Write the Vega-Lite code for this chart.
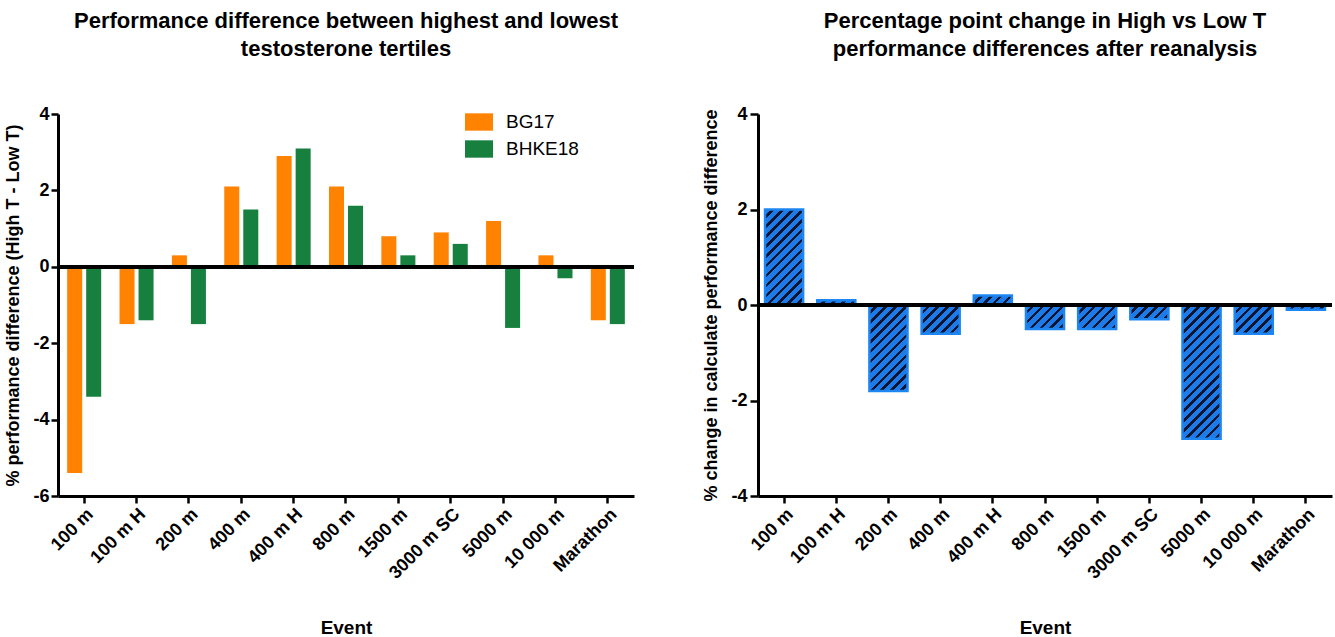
{
  "$schema": "https://vega.github.io/schema/vega-lite/v6.json",
  "background": "white",
  "padding": {"left": 4, "top": 10, "right": 0, "bottom": 0},
  "params": [
    {"name": "hatch", "value": [
      {"offset": 0, "color": "#1C7BE8"}, {"offset": 0.0325, "color": "#1C7BE8"}, {"offset": 0.0325, "color": "#0B1530"}, {"offset": 0.05, "color": "#0B1530"},
      {"offset": 0.05, "color": "#1C7BE8"}, {"offset": 0.0825, "color": "#1C7BE8"}, {"offset": 0.0825, "color": "#0B1530"}, {"offset": 0.1, "color": "#0B1530"},
      {"offset": 0.1, "color": "#1C7BE8"}, {"offset": 0.1325, "color": "#1C7BE8"}, {"offset": 0.1325, "color": "#0B1530"}, {"offset": 0.15, "color": "#0B1530"},
      {"offset": 0.15, "color": "#1C7BE8"}, {"offset": 0.1825, "color": "#1C7BE8"}, {"offset": 0.1825, "color": "#0B1530"}, {"offset": 0.2, "color": "#0B1530"},
      {"offset": 0.2, "color": "#1C7BE8"}, {"offset": 0.2325, "color": "#1C7BE8"}, {"offset": 0.2325, "color": "#0B1530"}, {"offset": 0.25, "color": "#0B1530"},
      {"offset": 0.25, "color": "#1C7BE8"}, {"offset": 0.2825, "color": "#1C7BE8"}, {"offset": 0.2825, "color": "#0B1530"}, {"offset": 0.3, "color": "#0B1530"},
      {"offset": 0.3, "color": "#1C7BE8"}, {"offset": 0.3325, "color": "#1C7BE8"}, {"offset": 0.3325, "color": "#0B1530"}, {"offset": 0.35, "color": "#0B1530"},
      {"offset": 0.35, "color": "#1C7BE8"}, {"offset": 0.3825, "color": "#1C7BE8"}, {"offset": 0.3825, "color": "#0B1530"}, {"offset": 0.4, "color": "#0B1530"},
      {"offset": 0.4, "color": "#1C7BE8"}, {"offset": 0.4325, "color": "#1C7BE8"}, {"offset": 0.4325, "color": "#0B1530"}, {"offset": 0.45, "color": "#0B1530"},
      {"offset": 0.45, "color": "#1C7BE8"}, {"offset": 0.4825, "color": "#1C7BE8"}, {"offset": 0.4825, "color": "#0B1530"}, {"offset": 0.5, "color": "#0B1530"},
      {"offset": 0.5, "color": "#1C7BE8"}, {"offset": 0.5325, "color": "#1C7BE8"}, {"offset": 0.5325, "color": "#0B1530"}, {"offset": 0.55, "color": "#0B1530"},
      {"offset": 0.55, "color": "#1C7BE8"}, {"offset": 0.5825, "color": "#1C7BE8"}, {"offset": 0.5825, "color": "#0B1530"}, {"offset": 0.6, "color": "#0B1530"},
      {"offset": 0.6, "color": "#1C7BE8"}, {"offset": 0.6325, "color": "#1C7BE8"}, {"offset": 0.6325, "color": "#0B1530"}, {"offset": 0.65, "color": "#0B1530"},
      {"offset": 0.65, "color": "#1C7BE8"}, {"offset": 0.6825, "color": "#1C7BE8"}, {"offset": 0.6825, "color": "#0B1530"}, {"offset": 0.7, "color": "#0B1530"},
      {"offset": 0.7, "color": "#1C7BE8"}, {"offset": 0.7325, "color": "#1C7BE8"}, {"offset": 0.7325, "color": "#0B1530"}, {"offset": 0.75, "color": "#0B1530"},
      {"offset": 0.75, "color": "#1C7BE8"}, {"offset": 0.7825, "color": "#1C7BE8"}, {"offset": 0.7825, "color": "#0B1530"}, {"offset": 0.8, "color": "#0B1530"},
      {"offset": 0.8, "color": "#1C7BE8"}, {"offset": 0.8325, "color": "#1C7BE8"}, {"offset": 0.8325, "color": "#0B1530"}, {"offset": 0.85, "color": "#0B1530"},
      {"offset": 0.85, "color": "#1C7BE8"}, {"offset": 0.8825, "color": "#1C7BE8"}, {"offset": 0.8825, "color": "#0B1530"}, {"offset": 0.9, "color": "#0B1530"},
      {"offset": 0.9, "color": "#1C7BE8"}, {"offset": 0.9325, "color": "#1C7BE8"}, {"offset": 0.9325, "color": "#0B1530"}, {"offset": 0.95, "color": "#0B1530"},
      {"offset": 0.95, "color": "#1C7BE8"}, {"offset": 0.9825, "color": "#1C7BE8"}, {"offset": 0.9825, "color": "#0B1530"}, {"offset": 1, "color": "#0B1530"}
    ]}
  ],
  "datasets": {
    "left": [
      {"event": "100 m", "study": "BG17", "value": -5.4},
      {"event": "100 m", "study": "BHKE18", "value": -3.4},
      {"event": "100 m H", "study": "BG17", "value": -1.5},
      {"event": "100 m H", "study": "BHKE18", "value": -1.4},
      {"event": "200 m", "study": "BG17", "value": 0.3},
      {"event": "200 m", "study": "BHKE18", "value": -1.5},
      {"event": "400 m", "study": "BG17", "value": 2.1},
      {"event": "400 m", "study": "BHKE18", "value": 1.5},
      {"event": "400 m H", "study": "BG17", "value": 2.9},
      {"event": "400 m H", "study": "BHKE18", "value": 3.1},
      {"event": "800 m", "study": "BG17", "value": 2.1},
      {"event": "800 m", "study": "BHKE18", "value": 1.6},
      {"event": "1500 m", "study": "BG17", "value": 0.8},
      {"event": "1500 m", "study": "BHKE18", "value": 0.3},
      {"event": "3000 m SC", "study": "BG17", "value": 0.9},
      {"event": "3000 m SC", "study": "BHKE18", "value": 0.6},
      {"event": "5000 m", "study": "BG17", "value": 1.2},
      {"event": "5000 m", "study": "BHKE18", "value": -1.6},
      {"event": "10 000 m", "study": "BG17", "value": 0.3},
      {"event": "10 000 m", "study": "BHKE18", "value": -0.3},
      {"event": "Marathon", "study": "BG17", "value": -1.4},
      {"event": "Marathon", "study": "BHKE18", "value": -1.5}
    ],
    "right": [
      {"event": "100 m", "value": 2.0},
      {"event": "100 m H", "value": 0.1},
      {"event": "200 m", "value": -1.8},
      {"event": "400 m", "value": -0.6},
      {"event": "400 m H", "value": 0.2},
      {"event": "800 m", "value": -0.5},
      {"event": "1500 m", "value": -0.5},
      {"event": "3000 m SC", "value": -0.3},
      {"event": "5000 m", "value": -2.8},
      {"event": "10 000 m", "value": -0.6},
      {"event": "Marathon", "value": -0.1}
    ]
  },
  "spacing": 66,
  "hconcat": [
    {
      "width": 576,
      "height": 382,
      "title": {"text": ["Performance difference between highest and lowest", "testosterone tertiles"]},
      "data": {"name": "left"},
      "layer": [
        {
          "mark": {"type": "bar"},
          "encoding": {
            "x": {
              "field": "event", "type": "nominal",
              "sort": ["100 m", "100 m H", "200 m", "400 m", "400 m H", "800 m", "1500 m", "3000 m SC", "5000 m", "10 000 m", "Marathon"],
              "scale": {"paddingInner": 0.35, "paddingOuter": 0.175},
              "axis": {"title": "Event"}
            },
            "xOffset": {"field": "study", "type": "nominal", "scale": {"paddingInner": 0.21, "paddingOuter": 0}},
            "y": {
              "field": "value", "type": "quantitative",
              "scale": {"domain": [-6, 4], "nice": false, "zero": false},
              "axis": {"title": "% performance difference (High T - Low T)", "values": [-6, -4, -2, 0, 2, 4]}
            },
            "color": {
              "field": "study", "type": "nominal",
              "scale": {"domain": ["BG17", "BHKE18"], "range": ["#FF8200", "#17803F"]},
              "legend": {
                "title": null, "orient": "none", "legendX": 407, "legendY": -6,
                "symbolType": "M-1,-0.62H1V0.62H-1Z", "symbolSize": 784, "symbolStrokeWidth": 0,
                "symbolOpacity": 1,
                "labelFontSize": 19, "labelFontWeight": "normal", "labelFont": "Liberation Sans", "labelColor": "black",
                "labelOffset": 13, "rowPadding": 3
              }
            }
          }
        },
        {
          "mark": {"type": "rule", "color": "black", "strokeWidth": 3},
          "encoding": {"y": {"datum": 0}}
        }
      ]
    },
    {
      "width": 574,
      "height": 382,
      "title": {"text": ["Percentage point change in High vs Low T", "performance differences after reanalysis"]},
      "data": {"name": "right"},
      "layer": [
        {
          "mark": {"type": "bar", "stroke": "#1E86F2", "strokeWidth": 2.5},
          "encoding": {
            "x": {
              "field": "event", "type": "nominal",
              "sort": ["100 m", "100 m H", "200 m", "400 m", "400 m H", "800 m", "1500 m", "3000 m SC", "5000 m", "10 000 m", "Marathon"],
              "scale": {"paddingInner": 0.27, "paddingOuter": 0.135},
              "axis": {"title": "Event"}
            },
            "y": {
              "field": "value", "type": "quantitative",
              "scale": {"domain": [-4, 4], "nice": false, "zero": false},
              "axis": {"title": "% change in calculate performance difference", "values": [-4, -2, 0, 2, 4], "tickSize": 8, "labelPadding": 3}
            },
            "fill": {"value": {"expr": "{gradient: 'linear', x1: 0, y1: 0, x2: 198*38.1/(1451.6 + pow(abs(datum.value)*47.75, 2)), y2: 198*abs(datum.value)*47.75/(1451.6 + pow(abs(datum.value)*47.75, 2)), stops: hatch}"}}
          }
        },
        {
          "mark": {"type": "rule", "color": "black", "strokeWidth": 3},
          "encoding": {"y": {"datum": 0}}
        }
      ]
    }
  ],
  "config": {
    "font": "Liberation Sans",
    "view": {"stroke": null},
    "title": {"font": "Liberation Sans", "fontSize": 22, "fontWeight": "bold", "color": "black", "anchor": "middle", "lineHeight": 28, "offset": 44},
    "axis": {
      "grid": false,
      "domainColor": "black", "domainWidth": 3,
      "tickColor": "black", "tickWidth": 2.5, "tickSize": 7,
      "labelFont": "Liberation Sans", "labelFontWeight": "bold", "labelFontSize": 18, "labelColor": "black", "labelPadding": 2,
      "titleFont": "Liberation Sans", "titleFontWeight": "bold", "titleFontSize": 18, "titleColor": "black",
      "labelExpr": "'' + datum.value"
    },
    "axisX": {"labelAngle": -45, "titlePadding": 36, "titleFontSize": 19, "labelExpr": "datum.label"},
    "axisY": {"titlePadding": 10}
  }
}
